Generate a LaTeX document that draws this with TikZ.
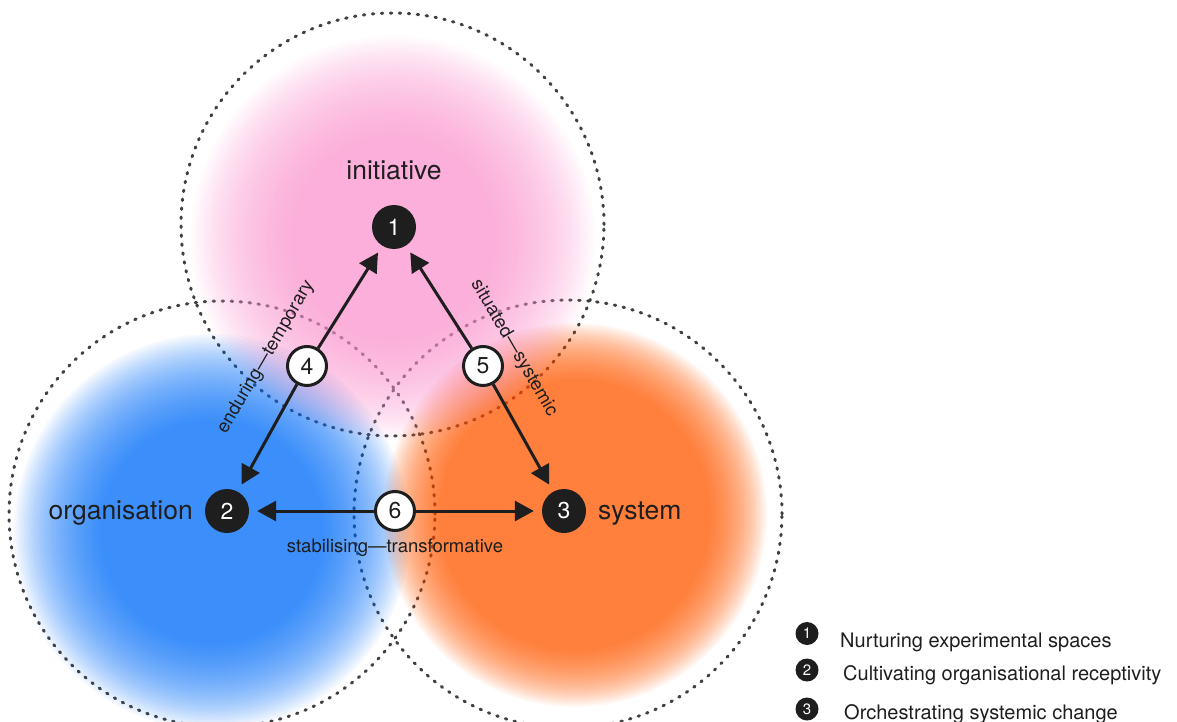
\documentclass[tikz,border=0pt]{standalone}
\usepackage{fontspec}
\setmainfont{TeX Gyre Heros}
\usepackage{tikz}
\usetikzlibrary{arrows.meta}

\definecolor{inkgray}{HTML}{1E1E1E}
\definecolor{ringgray}{HTML}{404040}
\definecolor{blobpink}{RGB}{250,150,206}
\definecolor{blobblue}{RGB}{0,108,248}
\definecolor{bloborange}{RGB}{255,88,0}

\begin{document}
\begin{tikzpicture}[x=1pt,y=-1pt,
  ring/.style={draw=ringgray,line width=3pt,dash pattern=on 1.5pt off 7.5pt,line cap=round},
  hub/.style={circle,fill=inkgray,text=white,minimum size=44pt,inner sep=0pt,font=\fontsize{23}{23}\selectfont},
  link/.style={circle,fill=white,draw=inkgray,line width=3pt,minimum size=39pt,inner sep=0pt,text=inkgray,font=\fontsize{23}{23}\selectfont},
  arrow/.style={draw=inkgray,line width=3pt,-{Triangle[length=19pt,width=20pt]},shorten >=8pt},
  place/.style={inner sep=0pt,text=inkgray,font=\fontsize{26.5}{30}\selectfont},
  tag/.style={inner sep=0pt,text=inkgray,font=\fontsize{18.5}{20}\selectfont},
  keydot/.style={circle,fill=inkgray,text=white,minimum size=23pt,inner sep=0pt,font=\fontsize{15}{15}\selectfont},
  keytext/.style={inner sep=0pt,anchor=base west,text=inkgray,font=\fontsize{20}{22}\selectfont}]
\useasboundingbox (0,0) rectangle (1177,722);
\coordinate (ctop) at (392.5,224.5);
\coordinate (cleft) at (222,514);
\coordinate (cright) at (568,514);
\draw [ring] (ctop) circle (211.5pt);
\draw [ring] (cleft) circle (213pt);
\draw [ring] (cright) circle (214pt);
\foreach \col/\cx/\cy/\rin/\rout in {blobblue/212/532/112/198,bloborange/575/515/135/192,blobpink/393/238/100/202}
  \foreach \k in {0,...,35} {
    \pgfmathsetmacro\rad{\rout-(\rout-\rin)*\k/35}
    \fill [\col,fill opacity=0.038] (\cx,\cy) circle (\rad pt);
  }
\node [hub] (n1) at (394,227) {1};
\node [hub] (n2) at (227,511) {2};
\node [hub] (n3) at (564,511) {3};
\node [link] (n4) at (307,366) {4};
\node [link] (n5) at (483,366) {5};
\node [link] (n6) at (395,511) {6};
\draw [arrow] (n4) -- (n1);
\draw [arrow] (n4) -- (n2);
\draw [arrow] (n5) -- (n1);
\draw [arrow] (n5) -- (n3);
\draw [arrow] (n6) -- (n2);
\draw [arrow] (n6) -- (n3);
\node [place,anchor=base] (initlbl) at (394,179) {initiative};
\node [place,anchor=base east] (orglbl) at (193,519) {organisation};
\node [place,anchor=base west] (syslbl) at (598,519) {system};
\node [tag,rotate=59.7] (lbl14) at (266,357) {enduring—temporary};
\node [tag,rotate=-59.7] (lbl15) at (514,348) {situated—systemic};
\node [tag,anchor=base] (lbl23) at (395,552) {stabilising—transformative};
\node [keydot] (k1) at (807,633.5) {1};
\node [keydot] (k2) at (807,670) {2};
\node [keydot] (k3) at (807,709) {3};
\node [keytext] (t1) at (840,647) {Nurturing experimental spaces};
\node [keytext] (t2) at (843,680) {Cultivating organisational receptivity};
\node [keytext] (t3) at (844,719) {Orchestrating systemic change};
\end{tikzpicture}
\end{document}
